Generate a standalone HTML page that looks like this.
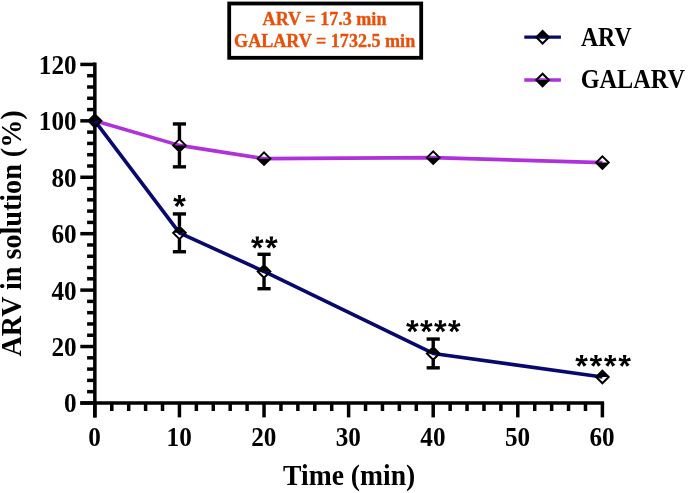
<!DOCTYPE html><html><head><meta charset="utf-8"><style>html,body{margin:0;padding:0;background:#fff;}svg{display:block;will-change:transform}text{font-family:"Liberation Serif",serif;font-weight:bold}</style></head><body>
<svg width="688" height="493" viewBox="0 0 688 493">
<g stroke="#000" stroke-width="3.5" fill="none">
<line x1="80.3" y1="402.95" x2="604.1" y2="402.95"/>
<line x1="94.85" y1="62.6" x2="94.85" y2="417.4"/>
<line x1="80.3" y1="402.95" x2="94.85" y2="402.95"/>
<line x1="87.1" y1="391.67" x2="94.85" y2="391.67"/>
<line x1="87.1" y1="380.38" x2="94.85" y2="380.38"/>
<line x1="87.1" y1="369.10" x2="94.85" y2="369.10"/>
<line x1="87.1" y1="357.81" x2="94.85" y2="357.81"/>
<line x1="80.3" y1="346.53" x2="94.85" y2="346.53"/>
<line x1="87.1" y1="335.25" x2="94.85" y2="335.25"/>
<line x1="87.1" y1="323.96" x2="94.85" y2="323.96"/>
<line x1="87.1" y1="312.68" x2="94.85" y2="312.68"/>
<line x1="87.1" y1="301.39" x2="94.85" y2="301.39"/>
<line x1="80.3" y1="290.11" x2="94.85" y2="290.11"/>
<line x1="87.1" y1="278.83" x2="94.85" y2="278.83"/>
<line x1="87.1" y1="267.54" x2="94.85" y2="267.54"/>
<line x1="87.1" y1="256.26" x2="94.85" y2="256.26"/>
<line x1="87.1" y1="244.97" x2="94.85" y2="244.97"/>
<line x1="80.3" y1="233.69" x2="94.85" y2="233.69"/>
<line x1="87.1" y1="222.41" x2="94.85" y2="222.41"/>
<line x1="87.1" y1="211.12" x2="94.85" y2="211.12"/>
<line x1="87.1" y1="199.84" x2="94.85" y2="199.84"/>
<line x1="87.1" y1="188.55" x2="94.85" y2="188.55"/>
<line x1="80.3" y1="177.27" x2="94.85" y2="177.27"/>
<line x1="87.1" y1="165.99" x2="94.85" y2="165.99"/>
<line x1="87.1" y1="154.70" x2="94.85" y2="154.70"/>
<line x1="87.1" y1="143.42" x2="94.85" y2="143.42"/>
<line x1="87.1" y1="132.13" x2="94.85" y2="132.13"/>
<line x1="80.3" y1="120.85" x2="94.85" y2="120.85"/>
<line x1="87.1" y1="109.57" x2="94.85" y2="109.57"/>
<line x1="87.1" y1="98.28" x2="94.85" y2="98.28"/>
<line x1="87.1" y1="87.00" x2="94.85" y2="87.00"/>
<line x1="87.1" y1="75.71" x2="94.85" y2="75.71"/>
<line x1="80.3" y1="64.43" x2="94.85" y2="64.43"/>
<line x1="94.85" y1="402.95" x2="94.85" y2="417.4"/>
<line x1="111.77" y1="402.95" x2="111.77" y2="411"/>
<line x1="128.69" y1="402.95" x2="128.69" y2="411"/>
<line x1="145.60" y1="402.95" x2="145.60" y2="411"/>
<line x1="162.52" y1="402.95" x2="162.52" y2="411"/>
<line x1="179.44" y1="402.95" x2="179.44" y2="417.4"/>
<line x1="196.36" y1="402.95" x2="196.36" y2="411"/>
<line x1="213.28" y1="402.95" x2="213.28" y2="411"/>
<line x1="230.19" y1="402.95" x2="230.19" y2="411"/>
<line x1="247.11" y1="402.95" x2="247.11" y2="411"/>
<line x1="264.03" y1="402.95" x2="264.03" y2="417.4"/>
<line x1="280.95" y1="402.95" x2="280.95" y2="411"/>
<line x1="297.87" y1="402.95" x2="297.87" y2="411"/>
<line x1="314.78" y1="402.95" x2="314.78" y2="411"/>
<line x1="331.70" y1="402.95" x2="331.70" y2="411"/>
<line x1="348.62" y1="402.95" x2="348.62" y2="417.4"/>
<line x1="365.54" y1="402.95" x2="365.54" y2="411"/>
<line x1="382.46" y1="402.95" x2="382.46" y2="411"/>
<line x1="399.37" y1="402.95" x2="399.37" y2="411"/>
<line x1="416.29" y1="402.95" x2="416.29" y2="411"/>
<line x1="433.21" y1="402.95" x2="433.21" y2="417.4"/>
<line x1="450.13" y1="402.95" x2="450.13" y2="411"/>
<line x1="467.05" y1="402.95" x2="467.05" y2="411"/>
<line x1="483.96" y1="402.95" x2="483.96" y2="411"/>
<line x1="500.88" y1="402.95" x2="500.88" y2="411"/>
<line x1="517.80" y1="402.95" x2="517.80" y2="417.4"/>
<line x1="534.72" y1="402.95" x2="534.72" y2="411"/>
<line x1="551.64" y1="402.95" x2="551.64" y2="411"/>
<line x1="568.55" y1="402.95" x2="568.55" y2="411"/>
<line x1="585.47" y1="402.95" x2="585.47" y2="411"/>
<line x1="602.39" y1="402.95" x2="602.39" y2="417.4"/>
</g>
<g font-size="26.4" fill="#000">
<text transform="translate(76.6,412.35) scale(0.955,1)" text-anchor="end">0</text>
<text transform="translate(76.6,355.93) scale(0.955,1)" text-anchor="end">20</text>
<text transform="translate(76.6,299.51) scale(0.955,1)" text-anchor="end">40</text>
<text transform="translate(76.6,243.09) scale(0.955,1)" text-anchor="end">60</text>
<text transform="translate(76.6,186.67) scale(0.955,1)" text-anchor="end">80</text>
<text transform="translate(76.6,130.25) scale(0.955,1)" text-anchor="end">100</text>
<text transform="translate(76.6,73.83) scale(0.955,1)" text-anchor="end">120</text>
<text transform="translate(94.55,446) scale(0.955,1)" text-anchor="middle">0</text>
<text transform="translate(179.14,446) scale(0.955,1)" text-anchor="middle">10</text>
<text transform="translate(263.73,446) scale(0.955,1)" text-anchor="middle">20</text>
<text transform="translate(348.32,446) scale(0.955,1)" text-anchor="middle">30</text>
<text transform="translate(432.91,446) scale(0.955,1)" text-anchor="middle">40</text>
<text transform="translate(517.50,446) scale(0.955,1)" text-anchor="middle">50</text>
<text transform="translate(602.09,446) scale(0.955,1)" text-anchor="middle">60</text>
</g>
<text x="283.1" y="484.9" font-size="28.4" textLength="132.2" lengthAdjust="spacingAndGlyphs">Time (min)</text>
<text transform="translate(21.3,356.5) rotate(-90)" x="0" y="0" font-size="28.5" textLength="246.2" lengthAdjust="spacingAndGlyphs">ARV in solution (%)</text>
<polyline points="94.85,120.85 179.44,145.39 264.03,158.65 433.21,157.64 602.39,162.60" fill="none" stroke="#b030dc" stroke-width="3.6" stroke-linejoin="round"/>
<g stroke="#000" stroke-width="3.4"><line x1="179.44" y1="123.95" x2="179.44" y2="139.09"/><line x1="179.44" y1="151.69" x2="179.44" y2="166.83"/><line x1="172.84" y1="123.95" x2="186.04" y2="123.95"/><line x1="172.84" y1="166.83" x2="186.04" y2="166.83"/></g>
<polygon points="88.55,120.85 94.85,127.15 101.15,120.85" fill="#000"/><polygon points="88.55,120.85 94.85,114.55 101.15,120.85 94.85,127.15" fill="none" stroke="#000" stroke-width="2.0"/>
<polygon points="173.14,145.39 179.44,151.69 185.74,145.39" fill="#000"/><polygon points="173.14,145.39 179.44,139.09 185.74,145.39 179.44,151.69" fill="none" stroke="#000" stroke-width="2.0"/>
<polygon points="257.73,158.65 264.03,164.95 270.33,158.65" fill="#000"/><polygon points="257.73,158.65 264.03,152.35 270.33,158.65 264.03,164.95" fill="none" stroke="#000" stroke-width="2.0"/>
<polygon points="426.91,157.64 433.21,163.94 439.51,157.64" fill="#000"/><polygon points="426.91,157.64 433.21,151.34 439.51,157.64 433.21,163.94" fill="none" stroke="#000" stroke-width="2.0"/>
<polygon points="596.09,162.60 602.39,168.90 608.69,162.60" fill="#000"/><polygon points="596.09,162.60 602.39,156.30 608.69,162.60 602.39,168.90" fill="none" stroke="#000" stroke-width="2.0"/>
<polyline points="94.85,120.85 179.44,232.84 264.03,271.49 433.21,353.44 602.39,377.00" fill="none" stroke="#08086e" stroke-width="3.6" stroke-linejoin="round"/>
<g stroke="#000" stroke-width="3.4"><line x1="179.44" y1="213.94" x2="179.44" y2="226.54"/><line x1="179.44" y1="239.14" x2="179.44" y2="251.74"/><line x1="172.84" y1="213.94" x2="186.04" y2="213.94"/><line x1="172.84" y1="251.74" x2="186.04" y2="251.74"/></g>
<g stroke="#000" stroke-width="3.4"><line x1="264.03" y1="254.28" x2="264.03" y2="265.19"/><line x1="264.03" y1="277.79" x2="264.03" y2="288.70"/><line x1="257.43" y1="254.28" x2="270.63" y2="254.28"/><line x1="257.43" y1="288.70" x2="270.63" y2="288.70"/></g>
<g stroke="#000" stroke-width="3.4"><line x1="433.21" y1="339.05" x2="433.21" y2="347.14"/><line x1="433.21" y1="359.74" x2="433.21" y2="367.83"/><line x1="426.61" y1="339.05" x2="439.81" y2="339.05"/><line x1="426.61" y1="367.83" x2="439.81" y2="367.83"/></g>
<polygon points="88.55,120.85 94.85,114.55 101.15,120.85" fill="#000"/><polygon points="88.55,120.85 94.85,114.55 101.15,120.85 94.85,127.15" fill="none" stroke="#000" stroke-width="2.0"/>
<polygon points="173.14,232.84 179.44,226.54 185.74,232.84" fill="#000"/><polygon points="173.14,232.84 179.44,226.54 185.74,232.84 179.44,239.14" fill="none" stroke="#000" stroke-width="2.0"/>
<polygon points="257.73,271.49 264.03,265.19 270.33,271.49" fill="#000"/><polygon points="257.73,271.49 264.03,265.19 270.33,271.49 264.03,277.79" fill="none" stroke="#000" stroke-width="2.0"/>
<polygon points="426.91,353.44 433.21,347.14 439.51,353.44" fill="#000"/><polygon points="426.91,353.44 433.21,347.14 439.51,353.44 433.21,359.74" fill="none" stroke="#000" stroke-width="2.0"/>
<polygon points="596.09,377.00 602.39,370.70 608.69,377.00" fill="#000"/><polygon points="596.09,377.00 602.39,370.70 608.69,377.00 602.39,383.30" fill="none" stroke="#000" stroke-width="2.0"/>
<path d="M180.45,201.10 L181.25,195.10 L177.75,195.10 L178.55,201.10ZM179.79,202.00 L185.75,200.91 L184.67,197.58 L179.21,200.20ZM179.79,200.20 L174.33,197.58 L173.25,200.91 L179.21,202.00ZM178.73,201.66 L181.61,206.98 L184.44,204.93 L180.27,200.54ZM178.73,200.54 L174.56,204.93 L177.39,206.98 L180.27,201.66Z" fill="#000"/>
<path d="M258.25,242.60 L259.05,236.60 L255.55,236.60 L256.35,242.60ZM257.59,243.50 L263.55,242.41 L262.47,239.08 L257.01,241.70ZM257.59,241.70 L252.13,239.08 L251.05,242.41 L257.01,243.50ZM256.53,243.16 L259.41,248.48 L262.24,246.43 L258.07,242.04ZM256.53,242.04 L252.36,246.43 L255.19,248.48 L258.07,243.16ZM272.35,242.60 L273.15,236.60 L269.65,236.60 L270.45,242.60ZM271.69,243.50 L277.65,242.41 L276.57,239.08 L271.11,241.70ZM271.69,241.70 L266.23,239.08 L265.15,242.41 L271.11,243.50ZM270.63,243.16 L273.51,248.48 L276.34,246.43 L272.17,242.04ZM270.63,242.04 L266.46,246.43 L269.29,248.48 L272.17,243.16Z" fill="#000"/>
<path d="M413.35,326.30 L414.15,320.30 L410.65,320.30 L411.45,326.30ZM412.69,327.20 L418.65,326.11 L417.57,322.78 L412.11,325.40ZM412.69,325.40 L407.23,322.78 L406.15,326.11 L412.11,327.20ZM411.63,326.86 L414.51,332.18 L417.34,330.13 L413.17,325.74ZM411.63,325.74 L407.46,330.13 L410.29,332.18 L413.17,326.86ZM427.32,326.30 L428.12,320.30 L424.62,320.30 L425.42,326.30ZM426.66,327.20 L432.62,326.11 L431.54,322.78 L426.08,325.40ZM426.66,325.40 L421.20,322.78 L420.12,326.11 L426.08,327.20ZM425.60,326.86 L428.48,332.18 L431.31,330.13 L427.14,325.74ZM425.60,325.74 L421.43,330.13 L424.26,332.18 L427.14,326.86ZM441.29,326.30 L442.09,320.30 L438.59,320.30 L439.39,326.30ZM440.63,327.20 L446.59,326.11 L445.51,322.78 L440.05,325.40ZM440.63,325.40 L435.17,322.78 L434.09,326.11 L440.05,327.20ZM439.57,326.86 L442.45,332.18 L445.28,330.13 L441.11,325.74ZM439.57,325.74 L435.40,330.13 L438.23,332.18 L441.11,326.86ZM455.26,326.30 L456.06,320.30 L452.56,320.30 L453.36,326.30ZM454.60,327.20 L460.56,326.11 L459.48,322.78 L454.02,325.40ZM454.60,325.40 L449.14,322.78 L448.06,326.11 L454.02,327.20ZM453.54,326.86 L456.42,332.18 L459.25,330.13 L455.08,325.74ZM453.54,325.74 L449.37,330.13 L452.20,332.18 L455.08,326.86Z" fill="#000"/>
<path d="M582.55,360.90 L583.35,354.90 L579.85,354.90 L580.65,360.90ZM581.89,361.80 L587.85,360.71 L586.77,357.38 L581.31,360.00ZM581.89,360.00 L576.43,357.38 L575.35,360.71 L581.31,361.80ZM580.83,361.46 L583.71,366.78 L586.54,364.73 L582.37,360.34ZM580.83,360.34 L576.66,364.73 L579.49,366.78 L582.37,361.46ZM596.90,360.90 L597.70,354.90 L594.20,354.90 L595.00,360.90ZM596.24,361.80 L602.20,360.71 L601.12,357.38 L595.66,360.00ZM596.24,360.00 L590.78,357.38 L589.70,360.71 L595.66,361.80ZM595.18,361.46 L598.06,366.78 L600.89,364.73 L596.72,360.34ZM595.18,360.34 L591.01,364.73 L593.84,366.78 L596.72,361.46ZM611.25,360.90 L612.05,354.90 L608.55,354.90 L609.35,360.90ZM610.59,361.80 L616.55,360.71 L615.47,357.38 L610.01,360.00ZM610.59,360.00 L605.13,357.38 L604.05,360.71 L610.01,361.80ZM609.53,361.46 L612.41,366.78 L615.24,364.73 L611.07,360.34ZM609.53,360.34 L605.36,364.73 L608.19,366.78 L611.07,361.46ZM625.60,360.90 L626.40,354.90 L622.90,354.90 L623.70,360.90ZM624.94,361.80 L630.90,360.71 L629.82,357.38 L624.36,360.00ZM624.94,360.00 L619.48,357.38 L618.40,360.71 L624.36,361.80ZM623.88,361.46 L626.76,366.78 L629.59,364.73 L625.42,360.34ZM623.88,360.34 L619.71,364.73 L622.54,366.78 L625.42,361.46Z" fill="#000"/>
<line x1="524.3" y1="37.2" x2="560.9" y2="37.2" stroke="#08086e" stroke-width="3.2"/>
<polygon points="536.30,37.20 542.60,30.90 548.90,37.20" fill="#000"/><polygon points="536.30,37.20 542.60,30.90 548.90,37.20 542.60,43.50" fill="none" stroke="#000" stroke-width="2.0"/>
<line x1="524.3" y1="80" x2="560.9" y2="80" stroke="#b030dc" stroke-width="3.6"/>
<polygon points="536.30,80.00 542.60,86.30 548.90,80.00" fill="#000"/><polygon points="536.30,80.00 542.60,73.70 548.90,80.00 542.60,86.30" fill="none" stroke="#000" stroke-width="2.0"/>
<text x="580.9" y="45.8" font-size="26.7" textLength="50.7" lengthAdjust="spacingAndGlyphs">ARV</text>
<text x="580.7" y="87.9" font-size="26.5" textLength="104.25" lengthAdjust="spacingAndGlyphs">GALARV</text>
<rect x="229.2" y="3.5" width="192" height="54.3" fill="#fff" stroke="#000" stroke-width="3.8"/>
<text x="262.6" y="25" font-size="19.2" fill="#e8500a" stroke="#e8500a" stroke-width="0.35" textLength="123.85" lengthAdjust="spacingAndGlyphs">ARV = 17.3 min</text>
<text x="234.1" y="47.1" font-size="19" fill="#e8500a" stroke="#e8500a" stroke-width="0.35" textLength="181.1" lengthAdjust="spacingAndGlyphs">GALARV = 1732.5 min</text>
</svg></body></html>
